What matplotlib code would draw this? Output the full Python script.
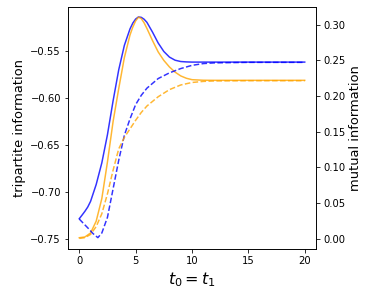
import numpy as np
import matplotlib
matplotlib.use("Agg")
import matplotlib.pyplot as plt

plt.rcParams.update({'font.size': 10})

# tripartite information (left axis), solid lines
t_blue = [0, 0.25, 0.5, 0.75, 1.0, 1.5, 2.0, 2.5, 3.0, 3.5, 4.0, 4.5, 4.75, 5.0,
          5.25, 5.5, 5.75, 6.0, 6.5, 7.0, 7.5, 8.0, 8.5, 9.0, 9.5, 10, 12, 15, 20]
tri_blue = [-0.7284, -0.7245, -0.7205, -0.7160, -0.7100, -0.6920, -0.6690, -0.6390,
            -0.6030, -0.5700, -0.5440, -0.5265, -0.5203, -0.5160, -0.5138, -0.5142,
            -0.5162, -0.5195, -0.5300, -0.5415, -0.5505, -0.5565, -0.5598, -0.5612,
            -0.5616, -0.5618, -0.5618, -0.5618, -0.5618]
t_orange = [0, 0.5, 1.0, 1.5, 2.0, 2.5, 3.0, 3.5, 4.0, 4.5, 4.75, 5.0, 5.25, 5.5,
            5.75, 6.0, 6.5, 7.0, 7.5, 8.0, 8.5, 9.0, 9.5, 10, 11, 12, 15, 20]
tri_orange = [-0.7486, -0.7478, -0.7436, -0.7310, -0.7070, -0.6680, -0.6250, -0.5900,
              -0.5570, -0.5330, -0.5245, -0.5180, -0.5140, -0.5155, -0.5200, -0.5260,
              -0.5390, -0.5510, -0.5600, -0.5670, -0.5725, -0.5765, -0.5790, -0.5805,
              -0.5811, -0.5812, -0.5812, -0.5812]

# mutual information (right axis), dashed lines
t_mi_blue = [0, 0.4, 0.8, 1.2, 1.65, 2.0, 2.5, 3.0, 3.5, 4.0, 4.5, 5.0, 5.5, 6.0,
             7.0, 8.0, 9.0, 10, 11, 12, 15, 20]
mi_blue = [0.0276, 0.0210, 0.0145, 0.0075, 0.0015, 0.008, 0.030, 0.070, 0.110, 0.145,
           0.168, 0.188, 0.201, 0.211, 0.2245, 0.2325, 0.2385, 0.243, 0.2455, 0.2465,
           0.2472, 0.2472]
t_mi_orange = [0, 0.5, 1.0, 1.5, 2.0, 2.5, 3.0, 3.5, 4.0, 4.5, 5.0, 5.5, 6.0, 7.0,
               8.0, 9.0, 10, 11, 12, 15, 20]
mi_orange = [0.0005, 0.0015, 0.006, 0.017, 0.035, 0.063, 0.096, 0.126, 0.142, 0.154,
             0.166, 0.177, 0.186, 0.199, 0.209, 0.2155, 0.219, 0.2205, 0.2212, 0.2215,
             0.2215]

fig = plt.figure(figsize=(375 / 72, 298 / 72), dpi=72)
ax1 = fig.add_axes([68 / 375, 49 / 298, 248 / 375, 242 / 298])
ax2 = ax1.twinx()

ax1.plot(t_blue, tri_blue, color='blue', alpha=0.8, lw=1.5)
ax1.plot(t_orange, tri_orange, color='orange', alpha=0.8, lw=1.5)
ax2.plot(t_mi_blue, mi_blue, color='blue', alpha=0.8, lw=1.5, ls='--')
ax2.plot(t_mi_orange, mi_orange, color='orange', alpha=0.8, lw=1.5, ls='--')

ax1.set_xlim(-1, 21)
ax1.set_ylim(-0.7606, -0.5032)
ax2.set_ylim(-0.0144, 0.3248)
ax1.set_xticks([0, 5, 10, 15, 20])
ax1.set_yticks([-0.75, -0.70, -0.65, -0.60, -0.55])
ax2.set_yticks([0.0, 0.05, 0.10, 0.15, 0.20, 0.25, 0.30])

ax1.set_xlabel("$t_0 = t_1$", fontsize=16)
ax1.set_ylabel("tripartite information", fontsize=13)
ax2.set_ylabel("mutual information", fontsize=13)

fig.savefig("out.png", dpi=72)
